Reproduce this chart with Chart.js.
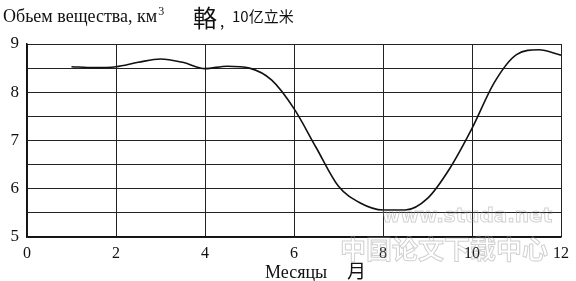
<!DOCTYPE html>
<html>
<head>
<meta charset="utf-8">
<script src="https://cdn.jsdelivr.net/npm/chart.js@4/dist/chart.umd.min.js"></script>
<style>
  html, body { margin: 0; padding: 0; background: #fff; }
  #wrap { width: 576px; height: 281px; position: relative; }
</style>
</head>
<body>
<div id="wrap"><canvas id="grafico"></canvas></div>
<script>
// months and volume (km3)
const meses = [1, 1.5, 2, 2.5, 3, 3.5, 4, 4.5, 5, 5.5, 6, 6.5, 7, 7.5, 8, 8.5, 9, 9.5, 10, 10.5, 11, 11.5, 12];
const volume = [8.53, 8.51, 8.53, 8.62, 8.69, 8.62, 8.49, 8.54, 8.5, 8.25, 7.66, 6.85, 6.05, 5.7, 5.56, 5.56, 5.8, 6.42, 7.25, 8.2, 8.78, 8.88, 8.77];
const ticksX = [0, 2, 4, 6, 8, 10, 12];
const ticksY = [5, 6, 7, 8, 9];

const serif = '"Liberation Serif", "DejaVu Serif", serif';

const textos = {
  id: 'textos',
  afterDraw(chart) {
    const c = chart.ctx;
    c.save();
    c.fillStyle = '#111';
    c.textBaseline = 'alphabetic';
    c.font = '18px ' + serif;
    const titulo = 'Обьем вещества, км';
    c.fillText(titulo, 3, 22);
    const w = c.measureText(titulo).width;
    c.font = '12px ' + serif;
    c.fillText('3', 3 + w + 1, 15);
    c.font = '24px "Noto Sans CJK SC"';
    c.fillText('輅', 193, 27);
    c.font = '15px "Noto Sans CJK SC"';
    c.fillText(',', 220, 27);
    c.fillText('10亿立米', 232, 22);
    c.font = '18px ' + serif;
    c.fillText('Месяцы', 265, 278);
    c.font = '19px "Noto Sans CJK SC"';
    c.fillText('月', 347, 278);
    // faint watermark
    c.strokeStyle = 'rgba(150,150,150,0.45)';
    c.lineWidth = 1;
    c.font = 'bold 20px "DejaVu Sans"';
    c.strokeText('www.studa.net', 382, 222);
    c.font = 'bold 26px "Noto Sans CJK SC"';
    c.strokeText('中国论文下载中心', 340, 259);
    c.restore();
  }
};

new Chart(document.getElementById('grafico').getContext('2d'), {
  type: 'line',
  data: {
    datasets: [{
      data: meses.map((m, i) => ({ x: m, y: volume[i] })),
      borderColor: '#111',
      borderWidth: 1.6,
      pointRadius: 0,
      tension: 0.4,
      cubicInterpolationMode: 'monotone',
      fill: false
    }]
  },
  options: {
    responsive: true,
    maintainAspectRatio: false,
    animation: false,
    layout: { padding: { top: 44, right: 9, left: 0, bottom: 0 } },
    plugins: { legend: { display: false }, tooltip: { enabled: false } },
    scales: {
      x: {
        type: 'linear',
        min: 0, max: 12,
        afterBuildTicks: ax => { ax.ticks = ticksX.map(v => ({ value: v })); },
        afterFit: ax => { ax.height = 44; },
        grid: { color: '#222', lineWidth: 1, drawTicks: false },
        border: { color: '#111', width: 1.5 },
        ticks: { color: '#111', font: { family: serif, size: 16 }, padding: 7 }
      },
      y: {
        type: 'linear',
        min: 5, max: 9,
        afterBuildTicks: ax => {
          const t = [];
          for (let v = 5; v <= 9; v += 0.5) t.push({ value: v });
          ax.ticks = t;
        },
        afterFit: ax => { ax.width = 27; },
        grid: { color: '#222', lineWidth: 1, drawTicks: false },
        border: { color: '#111', width: 1.5 },
        ticks: {
          color: '#111', font: { family: serif, size: 17 }, padding: 8,
          callback: v => ticksY.includes(v) ? String(v) : ''
        }
      }
    }
  },
  plugins: [textos]
});
</script>
</body>
</html>
